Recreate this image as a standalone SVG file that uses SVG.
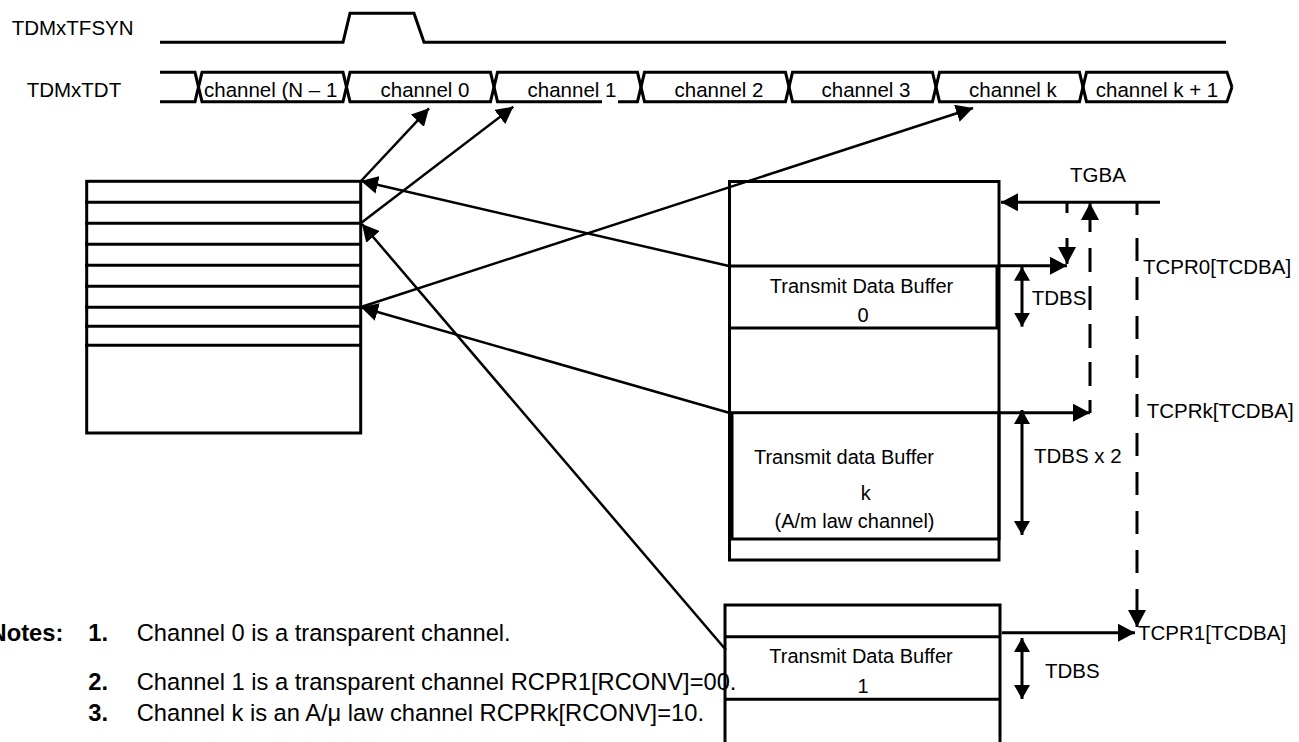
<svg xmlns="http://www.w3.org/2000/svg" width="1299" height="742" viewBox="0 0 1299 742">
<style>
text{font-family:"Liberation Sans",Arial,sans-serif;fill:#000}
.lbl{font-size:20.5px}
.bx{font-size:20px}
.note{font-size:23.7px}
.b{font-weight:bold}
.c{text-anchor:middle}
.ln{fill:none;stroke:#000;stroke-width:3}
.thin{fill:none;stroke:#000;stroke-width:2.5}
.dash{fill:none;stroke:#000;stroke-width:3}
</style>
<defs>
<marker id="ah" viewBox="0 0 17 18" refX="17" refY="9" markerWidth="17" markerHeight="18" markerUnits="userSpaceOnUse" orient="auto-start-reverse"><path d="M0,0 L17,9 L0,18 z" fill="#000"/></marker>
<marker id="ahs" viewBox="0 0 14 16" refX="14" refY="8" markerWidth="14" markerHeight="16" markerUnits="userSpaceOnUse" orient="auto-start-reverse"><path d="M0,0 L14,8 L0,16 z" fill="#000"/></marker>
</defs>
<rect width="1299" height="742" fill="#fff"/>

<g id="signal-tfsyn">
<text class="lbl" x="11.7" y="35">TDMxTFSYN</text>
<path class="ln" d="M160,42.3 L343,42.3 L350,13.3 L414,13.3 L424,42.3 L1226,42.3"/>
</g>

<g id="signal-tdt">
<text class="lbl" x="26.7" y="97">TDMxTDT</text>
<path class="ln" d="M160,72.3 L195,72.3 L202,101.7 L343,101.7 L350,72.3 L490.5,72.3 L497.5,101.7 L602,101.7 M618,101.7 L637.5,101.7 L644.5,72.3 L785.5,72.3 L792.5,101.7 L932.5,101.7 L939.5,72.3 L1079.5,72.3 L1086.5,101.7 L1227,101.7 L1232,87"/>
<path class="ln" d="M160,101.7 L195,101.7 L202,72.3 L343,72.3 L350,101.7 L490.5,101.7 L497.5,72.3 L637.5,72.3 L644.5,101.7 L785.5,101.7 L792.5,72.3 L932.5,72.3 L939.5,101.7 L1079.5,101.7 L1086.5,72.3 L1227,72.3 L1232,87"/>
<text class="lbl" x="204" y="97">channel (N – 1</text>
<text class="lbl c" x="425" y="97">channel 0</text>
<text class="lbl c" x="572" y="97">channel 1</text>
<text class="lbl c" x="719" y="97">channel 2</text>
<text class="lbl c" x="866" y="97">channel 3</text>
<text class="lbl c" x="1013" y="97">channel k</text>
<text class="lbl c" x="1157" y="97">channel k + 1</text>
</g>

<g id="channel-table">
<rect class="ln" x="86.7" y="181.3" width="274" height="251.7"/>
<path class="ln" d="M85,202.3 H360.7 M85,223.3 H360.7 M85,244.3 H360.7 M85,265.3 H360.7 M85,286.3 H360.7 M85,307.3 H360.7 M85,326.3 H360.7 M85,345.3 H360.7"/>
</g>

<g id="buffer-area">
<rect class="ln" x="729.5" y="181.5" width="269.5" height="378.5"/>
</g>

<g id="tdb0">
<rect class="ln" x="729.5" y="266" width="267.5" height="62"/>
<text class="bx c" x="861.5" y="293">Transmit Data Buffer</text>
<text class="bx c" x="863" y="321.7">0</text>
</g>

<g id="tdbk">
<rect class="ln" x="732" y="412.7" width="267" height="126.3"/>
<text class="bx c" x="844" y="464">Transmit data Buffer</text>
<text class="bx c" x="865.7" y="500">k</text>
<text class="bx c" x="854.5" y="528.3">(A/m law channel)</text>
</g>

<g id="tdb1">
<path class="ln" d="M725,745 V605 H1000 V745 M725,636.7 H1000 M725,699.3 H1000"/>
<text class="bx c" x="861" y="662.7">Transmit Data Buffer</text>
<text class="bx c" x="863" y="693">1</text>
</g>

<g id="labels">
<text class="lbl" x="1070" y="182">TGBA</text>
<text class="lbl" x="1143" y="274">TCPR0[TCDBA]</text>
<text class="lbl" x="1146.7" y="418">TCPRk[TCDBA]</text>
<text class="lbl" x="1138" y="640">TCPR1[TCDBA]</text>
<text class="lbl" x="1031.7" y="305">TDBS</text>
<text class="lbl" x="1034" y="462.7">TDBS x 2</text>
<text class="lbl" x="1045" y="678">TDBS</text>
</g>

<g id="connectors">
<line class="thin" x1="361" y1="181" x2="429" y2="108.3" marker-end="url(#ah)"/>
<line class="thin" x1="361" y1="223" x2="513.3" y2="106.7" marker-end="url(#ah)"/>
<line class="thin" x1="361" y1="307" x2="973" y2="108" marker-end="url(#ah)"/>
<line class="thin" x1="729" y1="266" x2="361" y2="181" marker-end="url(#ah)"/>
<line class="thin" x1="729" y1="412.7" x2="361" y2="307.3" marker-end="url(#ah)"/>
<line class="thin" x1="726" y1="650" x2="362" y2="224" stroke-width="2" marker-end="url(#ah)"/>

<line class="ln" x1="1160" y1="202.3" x2="1001" y2="202.3" marker-end="url(#ah)"/>
<line class="ln" x1="999" y1="265.7" x2="1067" y2="265.7" marker-end="url(#ah)"/>
<line class="ln" x1="999" y1="412.7" x2="1090" y2="412.7" marker-end="url(#ah)"/>
<line class="ln" x1="1001.7" y1="632.7" x2="1135" y2="632.7" marker-end="url(#ah)"/>

<line class="ln" x1="1067" y1="202.3" x2="1067" y2="213"/>
<line class="ln" x1="1067" y1="238" x2="1067" y2="264" marker-end="url(#ah)"/>

<line class="ln" x1="1090" y1="232" x2="1090" y2="203" marker-end="url(#ah)"/>
<line class="dash" x1="1090" y1="248" x2="1090" y2="413" stroke-dasharray="24 14"/>

<line class="ln" x1="1137" y1="202.3" x2="1137" y2="215"/>
<line class="dash" x1="1137" y1="238" x2="1137" y2="589" stroke-dasharray="23 16"/>
<line class="ln" x1="1137" y1="589" x2="1137" y2="627" marker-end="url(#ah)"/>

<line class="ln" x1="1022" y1="266.7" x2="1022" y2="326.7" marker-start="url(#ahs)" marker-end="url(#ahs)"/>
<line class="ln" x1="1022" y1="410" x2="1022" y2="535" marker-start="url(#ahs)" marker-end="url(#ahs)"/>
<line class="ln" x1="1022" y1="638" x2="1022" y2="699" marker-start="url(#ahs)" marker-end="url(#ahs)"/>
</g>

<g id="notes">
<text class="note b" x="-10.4" y="641">Notes:</text>
<text class="note b" x="88.3" y="641">1.</text>
<text class="note" x="136.7" y="641">Channel 0 is a transparent channel.</text>
<text class="note b" x="88.3" y="690">2.</text>
<text class="note" x="136.7" y="690">Channel 1 is a transparent channel RCPR1[RCONV]=00.</text>
<text class="note b" x="88.3" y="721">3.</text>
<text class="note" x="136.7" y="721">Channel k is an A/μ law channel RCPRk[RCONV]=10.</text>
</g>
</svg>
